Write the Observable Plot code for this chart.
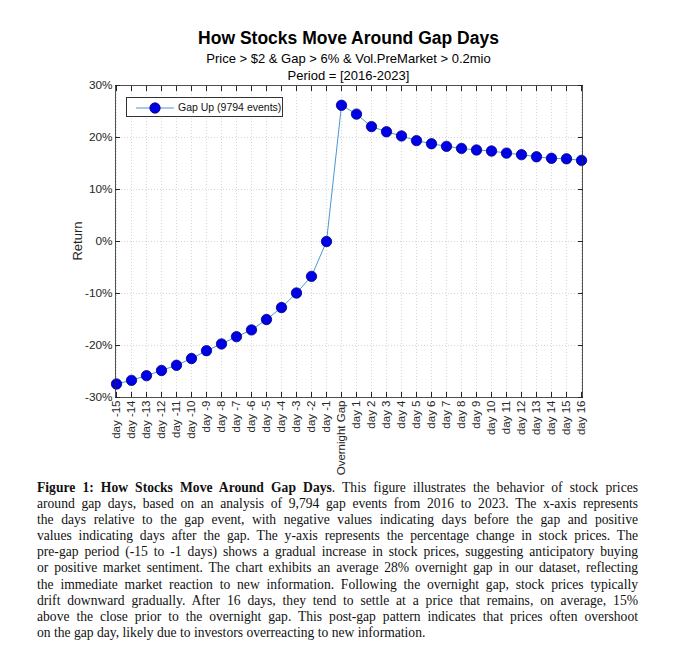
<!DOCTYPE html>
<html>
<head>
<meta charset="utf-8">
<script src="https://cdn.jsdelivr.net/npm/d3@7"></script>
<script src="https://cdn.jsdelivr.net/npm/@observablehq/plot@0.6"></script>
<style>
  html, body { margin: 0; padding: 0; background: #fff; }
  #wrap { position: relative; width: 680px; height: 664px; overflow: hidden; font-family: "Liberation Sans", Arial, sans-serif; color: #000; }
  .t { position: absolute; left: 0; width: 697px; text-align: center; white-space: nowrap; }
  #title { top: 27px; font-size: 17.5px; font-weight: bold; line-height: 22px; }
  #sub1 { top: 51px; font-size: 13px; line-height: 16px; }
  #sub2 { top: 68px; font-size: 13px; line-height: 16px; }
  #chart { position: absolute; left: 0; top: 80px; }
  #ylab { position: absolute; left: 77px; top: 241px; transform: translate(-50%, -50%) rotate(-90deg); font-size: 13px; color: #262626; white-space: nowrap; }
  #legend { position: absolute; left: 126px; top: 97px; width: 157px; height: 20px; border: 1px solid #333; background: #fff; box-sizing: border-box; }
  #legend svg { position: absolute; left: 0; top: 1px; }
  #legend span { position: absolute; left: 51px; top: 2px; font-size: 10.5px; line-height: 14px; color: #111; white-space: nowrap; }
  #caption { position: absolute; left: 37px; top: 480px; width: 601px; font-family: "Liberation Serif", "Times New Roman", serif; font-size: 13.6px; line-height: 16.1px; color: #111; }
  #caption .l { display: block; text-align: justify; text-align-last: justify; white-space: nowrap; }
  #caption .last { text-align: left; text-align-last: left; }
</style>
</head>
<body>
<div id="wrap">
  <div class="t" id="title">How Stocks Move Around Gap Days</div>
  <div class="t" id="sub1">Price &gt; $2 &amp; Gap &gt; 6% &amp; Vol.PreMarket &gt; 0.2mio</div>
  <div class="t" id="sub2">Period = [2016-2023]</div>
  <div id="chart"></div>
  <div id="ylab"></div>
  <div id="legend"></div>
  <div id="caption"></div>
</div>
<script>
// ---- data ----
const labels = [
  "day -15","day -14","day -13","day -12","day -11","day -10","day -9","day -8",
  "day -7","day -6","day -5","day -4","day -3","day -2","day -1","Overnight Gap",
  "day 1","day 2","day 3","day 4","day 5","day 6","day 7","day 8",
  "day 9","day 10","day 11","day 12","day 13","day 14","day 15","day 16"
];
const returns = [
  -27.4, -26.7, -25.8, -24.8, -23.8, -22.5, -21.0, -19.7,
  -18.3, -17.0, -15.0, -12.7, -9.9, -6.7, 0.0, 26.2,
  24.5, 22.1, 21.1, 20.3, 19.4, 18.8, 18.3, 17.9,
  17.6, 17.4, 17.0, 16.7, 16.3, 16.0, 15.9, 15.6
];
const yTicks = [-30, -20, -10, 0, 10, 20, 30];
const yLabel = "Return";
const seriesName = "Gap Up (9794 events)";
const captionLines = [
  "<b>Figure 1: How Stocks Move Around Gap Days</b>. This figure illustrates the behavior of stock prices",
  "around gap days, based on an analysis of 9,794 gap events from 2016 to 2023. The x-axis represents",
  "the days relative to the gap event, with negative values indicating days before the gap and positive",
  "values indicating days after the gap. The y-axis represents the percentage change in stock prices. The",
  "pre-gap period (-15 to -1 days) shows a gradual increase in stock prices, suggesting anticipatory buying",
  "or positive market sentiment. The chart exhibits an average 28% overnight gap in our dataset, reflecting",
  "the immediate market reaction to new information. Following the overnight gap, stock prices typically",
  "drift downward gradually. After 16 days, they tend to settle at a price that remains, on average, 15%",
  "above the close prior to the overnight gap. This post-gap pattern indicates that prices often overshoot",
  "on the gap day, likely due to investors overreacting to new information."
];

const data = labels.map((d, i) => ({day: d, ret: returns[i]}));
const lineColor = "#4b96d6";
const dotFill = "#0000e6";
const dotStroke = "#00007a";
const axisColor = "#262626";

const chart = Plot.plot({
  width: 680,
  height: 390,
  marginLeft: 115,
  marginRight: 98,
  marginTop: 5,
  marginBottom: 73,
  style: {fontFamily: "'Liberation Sans', Arial, sans-serif", fontSize: "11.5px", color: axisColor, background: "transparent", overflow: "visible"},
  x: {type: "point", domain: labels, padding: 0},
  y: {domain: [-30, 30]},
  marks: [
    Plot.gridX(labels, {stroke: "#d6d6d6", strokeOpacity: 1, strokeDasharray: "1,2"}),
    Plot.gridY(yTicks, {stroke: "#d6d6d6", strokeOpacity: 1, strokeDasharray: "1,2"}),
    Plot.line(data, {x: "day", y: "ret", stroke: lineColor, strokeWidth: 1}),
    Plot.dot(data, {x: "day", y: "ret", r: 5.2, fill: dotFill, stroke: dotStroke, strokeWidth: 0.8}),
    Plot.frame({stroke: axisColor, strokeWidth: 0.8}),
    Plot.axisY(yTicks, {anchor: "left", tickSize: 0, tickPadding: 3, tickFormat: d => d + "%", fill: axisColor, fontSize: 11.8, label: null}),
    Plot.axisY(yTicks, {anchor: "left", tickSize: -5, tickFormat: () => "", label: null, stroke: axisColor}),
    Plot.axisY(yTicks, {anchor: "right", tickSize: -5, tickFormat: () => "", label: null, stroke: axisColor}),
    Plot.axisX(labels, {anchor: "bottom", tickSize: 0, tickPadding: 3, tickRotate: -90, fill: axisColor, fontSize: 11.5, label: null}),
    Plot.axisX(labels, {anchor: "bottom", tickSize: -5, tickFormat: () => "", label: null, stroke: axisColor}),
    Plot.axisX(labels, {anchor: "top", tickSize: -5, tickFormat: () => "", label: null, stroke: axisColor})
  ]
});
document.getElementById("chart").appendChild(chart);
document.getElementById("ylab").textContent = yLabel;

// Legend sample (line + marker)
const legendSample = [{k: 0}, {k: 1}, {k: 2}];
const legend = Plot.plot({
  width: 50, height: 17,
  margin: 0, marginLeft: 9, marginRight: 4,
  x: {domain: [0, 2], axis: null},
  y: {domain: [0, 1], axis: null},
  style: {background: "transparent", overflow: "visible"},
  marks: [
    Plot.line(legendSample, {x: "k", y: () => 0.5, stroke: lineColor, strokeWidth: 1}),
    Plot.dot([legendSample[1]], {x: "k", y: () => 0.5, r: 5.2, fill: dotFill, stroke: dotStroke, strokeWidth: 0.8})
  ]
});
const lg = document.getElementById("legend");
lg.appendChild(legend);
const sp = document.createElement("span");
sp.textContent = seriesName;
lg.appendChild(sp);

const cap = document.getElementById("caption");
cap.innerHTML = captionLines.map((l, i) => `<span class="l${i === captionLines.length - 1 ? " last" : ""}">${l}</span>`).join("");
</script>
</body>
</html>
